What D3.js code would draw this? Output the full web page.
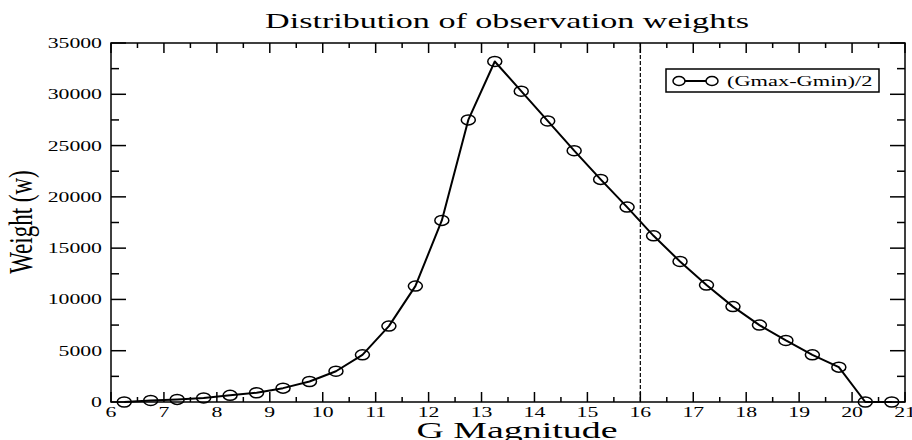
<!DOCTYPE html>
<html>
<head>
<meta charset="utf-8">
<script src="https://cdn.jsdelivr.net/npm/d3@7"></script>
<style>
  body { margin: 0; background: #fff; }
  text { font-family: "Liberation Serif", "DejaVu Serif", serif; fill: #000; }
</style>
</head>
<body>
<svg id="chart" width="912" height="440"></svg>
<script>
// G magnitude bins and weights
var magnitudes = [6.25, 6.75, 7.25, 7.75, 8.25, 8.75, 9.25, 9.75, 10.25, 10.75,
                  11.25, 11.75, 12.25, 12.75, 13.25, 13.75, 14.25, 14.75, 15.25, 15.75,
                  16.25, 16.75, 17.25, 17.75, 18.25, 18.75, 19.25, 19.75, 20.25, 20.75];
var weights = [0, 150, 250, 400, 650, 900, 1350, 2000, 3000, 4600,
               7400, 11300, 17700, 27500, 33200, 30300, 27400, 24500, 21700, 19000,
               16200, 13700, 11400, 9300, 7500, 6000, 4600, 3400, 0, 0];
var xTicks = [6, 7, 8, 9, 10, 11, 12, 13, 14, 15, 16, 17, 18, 19, 20, 21];
var yTicks = [0, 5000, 10000, 15000, 20000, 25000, 30000, 35000];
var cutoff = 16;
var seriesName = "(Gmax-Gmin)/2";

var svg = d3.select("#chart");
// plot box (note: "top" is reserved on window, so use pTop etc.)
var pLeft = 111, pRight = 905, pTop = 43, pBottom = 402;
var stretch = 1.45; // the original image is stretched sideways

var x = d3.scaleLinear().domain([6, 21]).range([pLeft, pRight]);
var y = d3.scaleLinear().domain([0, 35000]).range([pBottom, pTop]);

var data = magnitudes.map(function (m, i) { return { m: m, w: weights[i] }; });

// minor ticks
var xMinor = d3.range(6.5, 21, 1);
var yMinor = d3.range(2500, 35000, 5000);

var g = svg.append("g");

function tick(x1, y1, x2, y2) {
    g.append("line").attr("x1", x1).attr("y1", y1).attr("x2", x2).attr("y2", y2)
        .attr("stroke", "#000").attr("stroke-width", 1.5);
}

// wide text, anchored at (tx, ty)
function label(tx, ty, str, size, anchor, sx) {
    return svg.append("text")
        .attr("transform", "translate(" + tx + "," + ty + ") scale(" + (sx || stretch) + ",1)")
        .attr("text-anchor", anchor)
        .style("font-size", size + "px")
        .text(str);
}

// frame
g.append("rect")
    .attr("x", pLeft).attr("y", pTop)
    .attr("width", pRight - pLeft).attr("height", pBottom - pTop)
    .attr("fill", "none").attr("stroke", "#000").attr("stroke-width", 1.5);

// x ticks (inward, bottom and top)
xTicks.forEach(function (t) {
    tick(x(t), pBottom, x(t), pBottom - 10);
    tick(x(t), pTop, x(t), pTop + 10);
    label(x(t), 417, t, 15, "middle");
});
xMinor.forEach(function (t) {
    tick(x(t), pBottom, x(t), pBottom - 5);
    tick(x(t), pTop, x(t), pTop + 5);
});

// y ticks (inward, left and right)
yTicks.forEach(function (t) {
    tick(pLeft, y(t), pLeft + 15, y(t));
    tick(pRight, y(t), pRight - 15, y(t));
    label(102, y(t) + 5, t, 15, "end");
});
yMinor.forEach(function (t) {
    tick(pLeft, y(t), pLeft + 8, y(t));
    tick(pRight, y(t), pRight - 8, y(t));
});

// dashed cutoff line
g.append("line")
    .attr("x1", x(cutoff)).attr("x2", x(cutoff)).attr("y1", pTop).attr("y2", pBottom)
    .attr("stroke", "#000").attr("stroke-width", 1.2).attr("stroke-dasharray", "4,2");

// polyline through the points
var line = d3.line()
    .x(function (d) { return x(d.m); })
    .y(function (d) { return y(d.w); });

g.append("path").datum(data)
    .attr("d", line)
    .attr("fill", "none").attr("stroke", "#000").attr("stroke-width", 2)
    .attr("stroke-linejoin", "round");

g.selectAll(".pt").data(data).enter().append("ellipse")
    .attr("class", "pt")
    .attr("cx", function (d) { return x(d.m); })
    .attr("cy", function (d) { return y(d.w); })
    .attr("rx", 7).attr("ry", 5)
    .attr("fill", "none").attr("stroke", "#000").attr("stroke-width", 1.5);

// legend
var lg = g.append("g");
lg.append("rect").attr("x", 666).attr("y", 69).attr("width", 213).attr("height", 23)
    .attr("fill", "#fff").attr("stroke", "#000").attr("stroke-width", 1.5);
lg.append("line").attr("x1", 679).attr("x2", 712).attr("y1", 81).attr("y2", 81)
    .attr("stroke", "#000").attr("stroke-width", 2);
[679, 712].forEach(function (cx) {
    lg.append("ellipse").attr("cx", cx).attr("cy", 81).attr("rx", 6).attr("ry", 4.5)
        .attr("fill", "#fff").attr("stroke", "#000").attr("stroke-width", 1.5);
});
label(727, 86, seriesName, 14, "start", 1.6);

// titles
label(507, 28, "Distribution of observation weights", 22, "middle", 1.55);
label(517, 438, "G Magnitude", 24, "middle", 1.58);
svg.append("text")
    .attr("transform", "translate(32,222) rotate(-90) scale(1,1.5)")
    .attr("text-anchor", "middle")
    .style("font-size", "23px").text("Weight (w)");
</script>
</body>
</html>
